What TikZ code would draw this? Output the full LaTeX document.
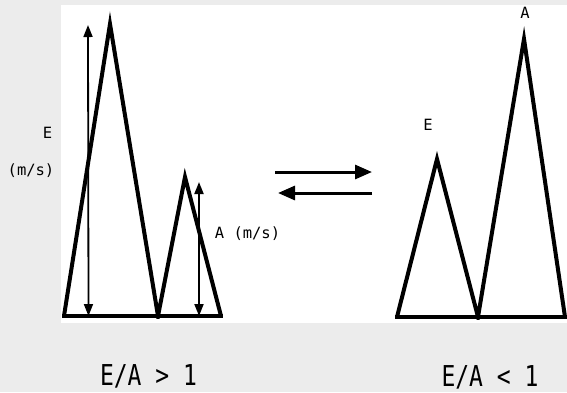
\documentclass[tikz,border=0pt]{standalone}
\usepackage{fontspec}
\usepackage{graphicx}
\usetikzlibrary{arrows.meta}
\newfontfamily\labfont{DejaVu Sans Mono}
\definecolor{bggray}{RGB}{236,236,236}
\begin{document}
\begin{tikzpicture}[x=1pt,y=-1pt,
  wave/.style={line width=4pt,line join=miter,miter limit=20},
  meas/.style={line width=1.8pt,{Triangle[length=12pt,width=9pt]}-{Triangle[length=12pt,width=9pt]}},
  flow/.style={line width=3pt,-{Triangle[length=17pt,width=14pt]}},
  small/.style={inner sep=0pt,anchor=base,font=\labfont\fontsize{15.5}{18}\selectfont},
  big/.style={inner sep=0pt,anchor=base,font=\labfont\fontsize{23}{26}\selectfont}]
\useasboundingbox (0,0) rectangle (567,392);
\fill[bggray] (0,0) rectangle (567,392);
\fill[white] (61,5) rectangle (567,323);

% left figure: E/A > 1
\coordinate (lb0) at (62,316);
\coordinate (lb1) at (223,316);
\coordinate (lE0) at (64,316);
\coordinate (lEp) at (110,24);
\coordinate (lmid) at (158,316);
\coordinate (lAp) at (185,177);
\coordinate (lA1) at (221,316);
\begin{scope}
\clip (0,0) rectangle (567,318);
\draw[wave] (lE0) -- (lEp) -- (lmid) -- (lAp) -- (lA1);
\end{scope}
\draw[wave] (lb0) -- (lb1);
\coordinate (eTop) at (88,25);
\coordinate (eBot) at (88.5,316);
\coordinate (aTop) at (199,182);
\coordinate (aBot) at (199,316);
\draw[meas] (eTop) -- (eBot);
\draw[meas] (aTop) -- (aBot);

\node[small] (lE) at (47.5,138) {E};
\node[small] (lunit) at (31,175) {(m/s)};
\node[small] (lA) at (247.5,238) {A (m/s)};
\node[big] (lratio) at (148.5,385) {\scalebox{1}[1.25]{E/A > 1}};

% arrows between
\coordinate (r0) at (275,172);
\coordinate (r1) at (372,172);
\coordinate (q0) at (372,193);
\coordinate (q1) at (278,193);
\draw[flow] (r0) -- (r1);
\draw[flow] (q0) -- (q1);

% right figure: E/A < 1
\coordinate (rb0) at (395,317);
\coordinate (rb1) at (567,317);
\coordinate (rE0) at (397,317);
\coordinate (rEp) at (437,159);
\coordinate (rmid) at (478,317);
\coordinate (rAp) at (524,39);
\coordinate (rA1) at (565,317);
\begin{scope}
\clip (0,0) rectangle (567,319);
\draw[wave] (rE0) -- (rEp) -- (rmid) -- (rAp) -- (rA1);
\end{scope}
\draw[wave] (rb0) -- (rb1);

\node[small] (rE) at (428,130) {E};
\node[small] (rA) at (525,18) {A};
\node[big] (rratio) at (490,386) {\scalebox{1}[1.25]{E/A < 1}};
\end{tikzpicture}
\end{document}
